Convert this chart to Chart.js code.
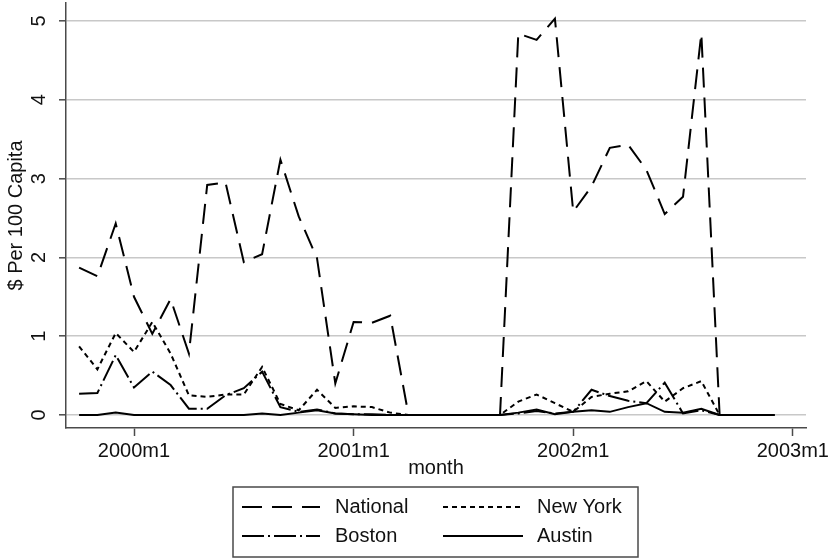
<!DOCTYPE html>
<html>
<head>
<meta charset="utf-8">
<script src="https://cdn.jsdelivr.net/npm/chart.js@4.4.1/dist/chart.umd.min.js"></script>
<style>
  html, body { margin: 0; padding: 0; background: #ffffff; }
  #wrap { width: 833px; height: 558px; }
</style>
</head>
<body>
<div id="wrap"><canvas id="c" width="833" height="558"></canvas></div>
<script>
// Monthly observations, 1999m10 .. 2002m12
const months = [
  '1999m10','1999m11','1999m12',
  '2000m1','2000m2','2000m3','2000m4','2000m5','2000m6','2000m7','2000m8','2000m9','2000m10','2000m11','2000m12',
  '2001m1','2001m2','2001m3','2001m4','2001m5','2001m6','2001m7','2001m8','2001m9','2001m10','2001m11','2001m12',
  '2002m1','2002m2','2002m3','2002m4','2002m5','2002m6','2002m7','2002m8','2002m9','2002m10','2002m11','2002m12'
];

// $ per 100 capita
const national = [1.87,1.76,2.43, 1.50,1.03,1.47,0.78,2.92,2.95,1.94,2.04,3.24,2.52,1.99,0.40,
                  1.18,1.17,1.26,0,0,0,0,0,0,4.84,4.76,5.03, 2.58,2.90,3.39,3.43,3.11,2.55,2.77,4.84,0,0,0,0];
const newYork  = [0.87,0.58,1.04, 0.80,1.18,0.78,0.25,0.23,0.26,0.26,0.61,0.14,0.06,0.32,0.09,
                  0.11,0.10,0.03,0,0,0,0,0,0,0.17,0.26,0.15, 0.04,0.23,0.27,0.30,0.43,0.17,0.34,0.43,0,0,0,0];
const boston   = [0.27,0.28,0.76, 0.35,0.55,0.38,0.08,0.08,0.25,0.34,0.55,0.10,0.04,0.07,0.02,
                  0.01,0.01,0,0,0,0,0,0,0,0.02,0.05,0.02, 0.04,0.32,0.24,0.18,0.15,0.41,0.02,0.06,0,0,0,0];
const austin   = [0,0,0.03, 0,0,0,0,0,0,0,0.02,0,0.03,0.06,0.02,
                  0.01,0,0,0,0,0,0,0,0,0.03,0.07,0.01, 0.04,0.06,0.04,0.10,0.15,0.04,0.03,0.08,0,0,0,0];

const xTickLabels = ['2000m1','2001m1','2002m1','2003m1'];
const yTickValues = [0,1,2,3,4,5];

const seriesNames = ['National','New York','Boston','Austin'];
const seriesDash  = [[20,10],[5,4],[22,4,2,4],[]];

// "YYYYmM" -> months since 2000m1
function monthIndex(s) {
  const p = s.split('m');
  return (parseInt(p[0], 10) - 2000) * 12 + (parseInt(p[1], 10) - 1);
}

function toPoints(vals) {
  return months.map((m, i) => ({ x: monthIndex(m), y: vals[i] }));
}

const FONT = '"Liberation Sans", Arial, Helvetica, sans-serif';
const AXIS = '#4a4a4a';
const INK = '#111111';

const allSeries = [national, newYork, boston, austin];
const datasets = allSeries.map((vals, i) => ({
  label: seriesNames[i],
  data: toPoints(vals),
  borderColor: '#000000',
  borderWidth: 2,
  borderDash: seriesDash[i],
  borderCapStyle: 'butt',
  borderJoinStyle: 'miter',
  pointRadius: 0,
  fill: false,
  tension: 0
}));

// Axis titles and the boxed two-column key
const decorations = {
  id: 'decorations',
  afterDraw(chart) {
    const ctx = chart.ctx;
    const area = chart.chartArea;
    ctx.save();
    ctx.fillStyle = INK;
    ctx.font = '20px ' + FONT;

    // x title
    ctx.textAlign = 'center';
    ctx.textBaseline = 'middle';
    ctx.fillText('month', (area.left + area.right) / 2, 468);

    // y title
    ctx.save();
    ctx.translate(16, (area.top + area.bottom) / 2);
    ctx.rotate(-Math.PI / 2);
    ctx.fillText('$ Per 100 Capita', 0, 0);
    ctx.restore();

    // key box
    const bx = 233, by = 487, bw = 405, bh = 70;
    ctx.strokeStyle = AXIS;
    ctx.lineWidth = 1.5;
    ctx.strokeRect(bx, by, bw, bh);

    const cols = [{ x0: 242, x1: 320, tx: 335 }, { x0: 443, x1: 523, tx: 537 }];
    const rows = [507, 536];
    chart.data.datasets.forEach((ds, i) => {
      const c = cols[i % 2], r = rows[Math.floor(i / 2)];
      ctx.beginPath();
      ctx.setLineDash(ds.borderDash);
      ctx.lineCap = 'butt';
      ctx.strokeStyle = '#000000';
      ctx.lineWidth = 2;
      ctx.moveTo(c.x0, r);
      ctx.lineTo(c.x1, r);
      ctx.stroke();
      ctx.setLineDash([]);
      ctx.textAlign = 'left';
      ctx.textBaseline = 'middle';
      ctx.fillStyle = INK;
      ctx.fillText(ds.label, c.tx, r);
    });
    ctx.restore();
  }
};

new Chart(document.getElementById('c'), {
  type: 'line',
  data: { datasets },
  plugins: [decorations],
  options: {
    responsive: false,
    animation: false,
    events: [],
    layout: { autoPadding: false, padding: { top: 3, right: 27, left: 0, bottom: 0 } },
    plugins: { legend: { display: false }, tooltip: { enabled: false }, title: { display: false } },
    scales: {
      x: {
        type: 'linear',
        min: -3.716,
        max: 36.72,
        afterBuildTicks: s => { s.ticks = xTickLabels.map(monthIndex).map(v => ({ value: v })); },
        afterFit: s => { s.height = 130; s.paddingLeft = 0; s.paddingRight = 0; },
        ticks: {
          autoSkip: false,
          maxRotation: 0,
          minRotation: 0,
          padding: 3,
          color: INK,
          font: { family: FONT, size: 20 },
          callback: v => {
            const k = xTickLabels.map(monthIndex).indexOf(v);
            return k >= 0 ? xTickLabels[k] : '';
          }
        },
        grid: { drawOnChartArea: false, drawTicks: true, tickLength: 8, tickColor: AXIS, tickWidth: 1.5 },
        border: { display: true, color: AXIS, width: 1.5 }
      },
      y: {
        min: -0.165,
        max: 5.228,
        afterBuildTicks: s => { s.ticks = yTickValues.map(v => ({ value: v })); },
        afterFit: s => { s.width = 66; s.paddingTop = 0; s.paddingBottom = 0; },
        ticks: {
          minRotation: 90,
          maxRotation: 90,
          crossAlign: 'center',
          padding: 14,
          color: INK,
          font: { family: FONT, size: 20 },
          callback: v => String(v)
        },
        grid: {
          drawOnChartArea: true,
          drawTicks: true,
          tickLength: 7,
          color: '#c8c8c8',
          lineWidth: 1.6,
          tickColor: AXIS,
          tickWidth: 1.5
        },
        border: { display: true, color: AXIS, width: 1.5 }
      }
    }
  }
});
</script>
</body>
</html>
